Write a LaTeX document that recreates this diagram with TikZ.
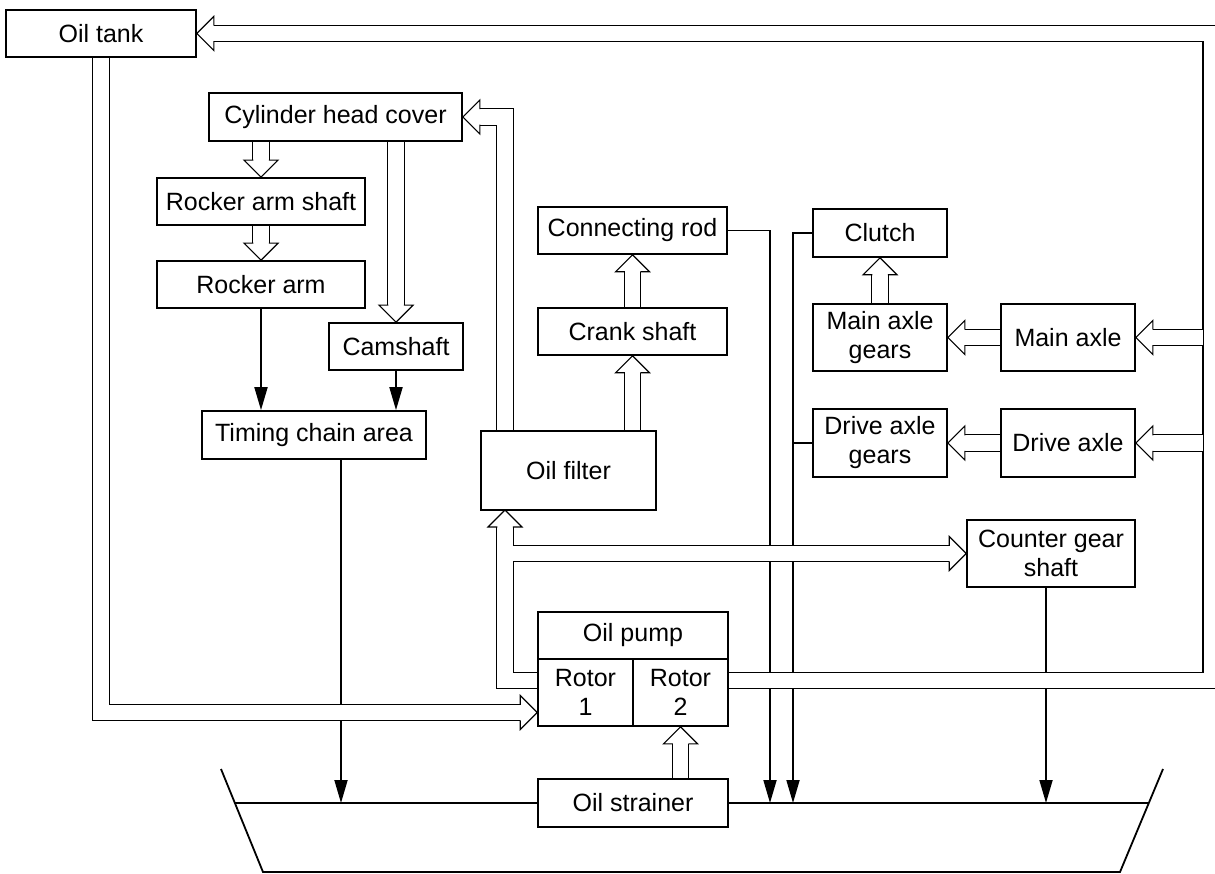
\documentclass[tikz,border=0pt]{standalone}
\usepackage{fontspec}
\setmainfont{Liberation Sans}
\usetikzlibrary{arrows.meta, calc}
\pgfdeclarelayer{back}
\pgfsetlayers{back,main}
\tikzset{
  hhead/.pic={\draw[line width=1.2pt, line join=miter] (-17,7.75) -- (-17,17) -- (0,0) -- (-17,-17) -- (-17,-7.75);}
}

\begin{document}
\begin{tikzpicture}[x=1pt, y=-1pt,
  every node/.style={font={\fontsize{25}{29}\selectfont}},
  unit/.style={draw, line width=1.7pt, inner sep=0pt, align=center},
  pipe/.style={line width=1.2pt, double=white, double distance=15.5pt, line join=miter},
  flow/.style={line width=1.8pt, -{Triangle[length=23pt, width=13pt]}},
  level/.style={line width=1.2pt}]
  \useasboundingbox (0,0) rectangle (1215,874);
  \node[unit, minimum width=190pt, minimum height=47pt] (tank) at (101,33.5) {Oil tank};
  \node[unit, minimum width=253pt, minimum height=48pt] (cover) at (335.5,117) {Cylinder head cover};
  \node[unit, minimum width=208pt, minimum height=47pt] (rshaft) at (261,201.5) {Rocker arm shaft};
  \node[unit, minimum width=208pt, minimum height=47pt] (rarm) at (261,284.5) {Rocker arm};
  \node[unit, minimum width=134pt, minimum height=47pt] (cam) at (396,346.5) {Camshaft};
  \node[unit, minimum width=224pt, minimum height=48pt] (timing) at (314,435) {Timing chain area};
  \node[unit, minimum width=175pt, minimum height=79pt] (filter) at (568.5,470.5) {Oil filter};
  \node[unit, minimum width=189pt, minimum height=47pt] (conrod) at (632.5,230.5) {Connecting rod};
  \node[unit, minimum width=189pt, minimum height=47pt] (crank) at (632.5,331.5) {Crank shaft};
  \node[unit, minimum width=134pt, minimum height=48pt] (clutch) at (880,233) {Clutch};
  \node[unit, minimum width=134pt, minimum height=67pt] (mag) at (880,337.5) {Main axle\\gears};
  \node[unit, minimum width=134pt, minimum height=67pt] (maxle) at (1068,337.5) {Main axle};
  \node[unit, minimum width=134pt, minimum height=68pt] (dag) at (880,443) {Drive axle\\gears};
  \node[unit, minimum width=134pt, minimum height=68pt] (daxle) at (1068,443) {Drive axle};
  \node[unit, minimum width=168pt, minimum height=67pt] (cgs) at (1051,553.5) {Counter gear\\shaft};
  \node[unit, minimum width=190pt, minimum height=47pt] (pumphead) at (633,635.5) {Oil pump};
  \node[unit, minimum width=95pt, minimum height=67pt] (rotorA) at (585.5,692.5) {Rotor\\1};
  \node[unit, minimum width=95pt, minimum height=67pt] (rotorB) at (680.5,692.5) {Rotor\\2};
  \node[unit, minimum width=190pt, minimum height=48pt] (strainer) at (633,803) {Oil strainer};
  \coordinate (oilL) at (234.5,803);
  \coordinate (oilR) at (1149,803);
  \coordinate (dropA) at (770,0);
  \coordinate (dropB) at (793,0);
  \coordinate (rail) at (1202.65,0);
  \coordinate (ftip) at (505,510);
  \begin{pgfonlayer}{back}
    \clip (0,0) rectangle (1215,874);
    % sump
    \draw[line width=1.8pt] (221,769) -- (263,872) -- (1120,872) -- (1163,769);
    \draw[level] (oilL) -- (strainer.west) (strainer.east) -- (oilR);
    % drain lines
    \draw[flow] (rarm.south) -- (rarm.south |- timing.north);
    \draw[flow] (cam.south) -- (cam.south |- timing.north);
    \draw[flow] ($(timing.south)+(27,0)$) coordinate (tdrop) -- (tdrop |- oilL);
    \draw[flow] (conrod.east) -| (dropA |- oilL);
    \draw[flow] (clutch.west) -| (dropB |- oilL);
    \draw[line width=1.8pt] (dag.west) -- (dag.west -| dropB);
    \draw[flow] ($(cgs.south)+(-5,0)$) coordinate (cdrop) -- (cdrop |- oilL);
    % oil pipes
    \draw[pipe] (tank.south) |- ($(rotorA.west)+(-17,20)$);
    \draw[pipe] ($(rotorB.east)+(0,-12)$) -- ++(482.4,0) |- ($(tank.east)+(17,0)$);
    \draw[pipe] (rail |- maxle.east) -- ($(maxle.east)+(17,0)$);
    \draw[pipe] (rail |- daxle.east) -- ($(daxle.east)+(17,0)$);
    \draw[pipe] ($(rotorA.west)+(0,-12)$) -| ($(ftip)+(0,17)$);
    \draw[pipe] ($(ftip |- cgs.west)+(7.75,0)$) -- ($(cgs.west)+(-17,0)$);
    \draw[pipe] (filter.north -| ftip) |- ($(cover.east)+(17,0)$);
    \draw[pipe] (filter.north -| crank.south) -- ($(crank.south)+(0,17)$);
    \draw[pipe] (crank.north) -- ($(conrod.south)+(0,17)$);
    \draw[pipe] (cover.south -| rshaft.north) -- ($(rshaft.north)+(0,-17)$);
    \draw[pipe] (rshaft.south) -- ($(rarm.north)+(0,-17)$);
    \draw[pipe] (cover.south -| cam.north) -- ($(cam.north)+(0,-17)$);
    \draw[pipe] (mag.north) -- ($(clutch.south)+(0,17)$);
    \draw[pipe] (maxle.west) -- ($(mag.east)+(17,0)$);
    \draw[pipe] (daxle.west) -- ($(dag.east)+(17,0)$);
    \draw[pipe] (strainer.north -| rotorB.south) -- ($(rotorB.south)+(0,17)$);
  \end{pgfonlayer}
  \pic[rotate=180] at (tank.east) {hhead};
  \pic at ($(rotorA.west)+(0,20)$) {hhead};
  \pic[rotate=180] at (maxle.east) {hhead};
  \pic[rotate=180] at (daxle.east) {hhead};
  \pic[rotate=90] at (ftip) {hhead};
  \pic at (cgs.west) {hhead};
  \pic[rotate=180] at (cover.east) {hhead};
  \pic[rotate=90] at (crank.south) {hhead};
  \pic[rotate=90] at (conrod.south) {hhead};
  \pic[rotate=-90] at (rshaft.north) {hhead};
  \pic[rotate=-90] at (rarm.north) {hhead};
  \pic[rotate=-90] at (cam.north) {hhead};
  \pic[rotate=90] at (clutch.south) {hhead};
  \pic[rotate=180] at (mag.east) {hhead};
  \pic[rotate=180] at (dag.east) {hhead};
  \pic[rotate=90] at (rotorB.south) {hhead};
\end{tikzpicture}
\end{document}
